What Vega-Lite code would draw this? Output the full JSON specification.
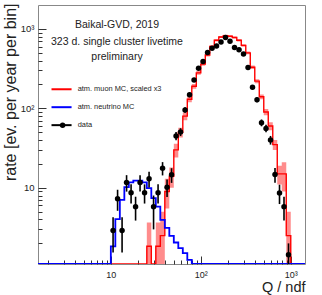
{
  "$schema": "https://vega.github.io/schema/vega-lite/v6.json",
  "width": 267,
  "height": 259,
  "autosize": "none",
  "padding": {"left": 38, "top": 5, "right": 17, "bottom": 31},
  "background": "white",
  "config": {
    "view": {"stroke": "#888", "strokeWidth": 1},
    "font": "Liberation Sans",
    "axis": {"domain": false, "grid": false, "tickColor": "#333", "labelFont": "Liberation Sans", "labelFontSize": 9.5, "labelColor": "#222", "titleFont": "Liberation Sans", "titleFontWeight": "normal", "titleColor": "#222"}
  },
  "datasets": {
    "points": [
      {"q": 10.59, "y": 2.9, "lo": 1.54, "hi": 4.26},
      {"q": 11.885, "y": 7.3, "lo": 5.14, "hi": 9.46},
      {"q": 13.335, "y": 2.9, "lo": 1.54, "hi": 4.26},
      {"q": 14.96, "y": 11.7, "lo": 8.96, "hi": 14.44},
      {"q": 16.79, "y": 8.7, "lo": 6.34, "hi": 11.06},
      {"q": 18.84, "y": 5.8, "lo": 3.87, "hi": 7.73},
      {"q": 21.13, "y": 11.7, "lo": 8.96, "hi": 14.44},
      {"q": 23.71, "y": 8.7, "lo": 6.34, "hi": 11.06},
      {"q": 26.61, "y": 13.0, "lo": 10.12, "hi": 15.88},
      {"q": 29.85, "y": 5.8, "lo": 3.0, "hi": 8.0},
      {"q": 33.5, "y": 8.7, "lo": 6.34, "hi": 11.06},
      {"q": 37.58, "y": 17.7, "lo": 14.33, "hi": 21.07},
      {"q": 42.17, "y": 10.2, "lo": 7.65, "hi": 12.75},
      {"q": 47.32, "y": 14.6, "lo": 11.54, "hi": 17.66},
      {"q": 53.09, "y": 45, "lo": 39.6, "hi": 50.4},
      {"q": 59.57, "y": 50.6, "lo": 44.9, "hi": 56.3},
      {"q": 66.83, "y": 95.7, "lo": 87.9, "hi": 103.5},
      {"q": 74.99, "y": 148, "lo": 138, "hi": 158},
      {"q": 84.14, "y": 228, "lo": 216, "hi": 240},
      {"q": 94.41, "y": 320, "lo": 306, "hi": 334},
      {"q": 105.9, "y": 388, "lo": 372, "hi": 404},
      {"q": 118.9, "y": 504, "lo": 486, "hi": 522},
      {"q": 133.4, "y": 572, "lo": 553, "hi": 591},
      {"q": 149.6, "y": 611, "lo": 591, "hi": 631},
      {"q": 167.9, "y": 686, "lo": 665, "hi": 707},
      {"q": 188.4, "y": 778, "lo": 756, "hi": 800},
      {"q": 211.3, "y": 700, "lo": 679, "hi": 721},
      {"q": 237.1, "y": 582, "lo": 563, "hi": 601},
      {"q": 266.1, "y": 545, "lo": 526, "hi": 564},
      {"q": 298.5, "y": 485, "lo": 467, "hi": 503},
      {"q": 335.0, "y": 326, "lo": 312, "hi": 340},
      {"q": 375.8, "y": 185, "lo": 174, "hi": 196},
      {"q": 421.7, "y": 128, "lo": 119, "hi": 137},
      {"q": 473.2, "y": 66, "lo": 59.5, "hi": 72.5},
      {"q": 530.9, "y": 56, "lo": 50, "hi": 62},
      {"q": 595.7, "y": 40, "lo": 35, "hi": 45},
      {"q": 668.3, "y": 14.7, "lo": 11.6, "hi": 17.8},
      {"q": 749.9, "y": 8.6, "lo": 6.25, "hi": 10.95},
      {"q": 841.4, "y": 5.8, "lo": 3.87, "hi": 7.73},
      {"q": 944.1, "y": 1.44, "lo": 1.1, "hi": 2.0}
    ],
    "blue": [
      {"q": 1.55, "v": 1.1},
      {"q": 10, "v": 1.83},
      {"q": 11.22, "v": 4.04},
      {"q": 12.59, "v": 7.06},
      {"q": 14.13, "v": 10.2},
      {"q": 15.85, "v": 11.7},
      {"q": 17.78, "v": 12.3},
      {"q": 19.95, "v": 12.3},
      {"q": 22.39, "v": 11.7},
      {"q": 25.12, "v": 9.9},
      {"q": 28.18, "v": 7.4},
      {"q": 31.62, "v": 5.8},
      {"q": 35.48, "v": 3.95},
      {"q": 39.81, "v": 3.14},
      {"q": 44.67, "v": 2.49},
      {"q": 50.12, "v": 2.05},
      {"q": 56.23, "v": 1.74},
      {"q": 63.10, "v": 1.51},
      {"q": 70.79, "v": 1.24},
      {"q": 79.43, "v": 1.1},
      {"q": 1440, "v": 1.1}
    ],
    "red": [
      {"q": 1.55, "v": 1.1, "lo": 1.1, "hi": 1.1},
      {"q": 25.12, "v": 1.84, "lo": 1.1, "hi": 3.67},
      {"q": 28.18, "v": 1.1, "lo": 1.1, "hi": 1.1},
      {"q": 31.62, "v": 1.84, "lo": 1.1, "hi": 3.67},
      {"q": 35.48, "v": 2.5, "lo": 1.1, "hi": 5},
      {"q": 39.81, "v": 9, "lo": 5.5, "hi": 13},
      {"q": 44.67, "v": 14, "lo": 10, "hi": 18},
      {"q": 50.12, "v": 30, "lo": 24, "hi": 36},
      {"q": 56.23, "v": 50, "lo": 43, "hi": 57},
      {"q": 63.10, "v": 80, "lo": 71, "hi": 89},
      {"q": 70.79, "v": 130, "lo": 119, "hi": 141},
      {"q": 79.43, "v": 190, "lo": 177, "hi": 203},
      {"q": 89.13, "v": 280, "lo": 265, "hi": 295},
      {"q": 100, "v": 360, "lo": 343, "hi": 377},
      {"q": 112.2, "v": 470, "lo": 451, "hi": 489},
      {"q": 125.9, "v": 600, "lo": 579, "hi": 621},
      {"q": 141.3, "v": 720, "lo": 697, "hi": 743},
      {"q": 158.5, "v": 790, "lo": 766, "hi": 814},
      {"q": 177.8, "v": 820, "lo": 796, "hi": 844},
      {"q": 199.5, "v": 810, "lo": 786, "hi": 834},
      {"q": 223.9, "v": 780, "lo": 756, "hi": 804},
      {"q": 251.2, "v": 720, "lo": 697, "hi": 743},
      {"q": 281.8, "v": 620, "lo": 598, "hi": 642},
      {"q": 316.2, "v": 500, "lo": 480, "hi": 520},
      {"q": 354.8, "v": 330, "lo": 314, "hi": 346},
      {"q": 398.1, "v": 220, "lo": 207, "hi": 233},
      {"q": 446.7, "v": 140, "lo": 130, "hi": 150},
      {"q": 501.2, "v": 90, "lo": 82, "hi": 98},
      {"q": 562.3, "v": 60, "lo": 53, "hi": 67},
      {"q": 631.0, "v": 35, "lo": 30, "hi": 40},
      {"q": 707.9, "v": 15, "lo": 11, "hi": 19},
      {"q": 794.3, "v": 15, "lo": 9, "hi": 21},
      {"q": 891.3, "v": 2.5, "lo": 1.1, "hi": 5},
      {"q": 1000, "v": 1.1, "lo": 1.1, "hi": 1.1},
      {"q": 1440, "v": 1.1, "lo": 1.1, "hi": 1.1}
    ],
    "notes": [
      {"q": 11.7, "r": 1122, "t": "Baikal-GVD, 2019"},
      {"q": 11.7, "r": 692, "t": "323 d. single cluster livetime"},
      {"q": 11.7, "r": 449, "t": "preliminary"}
    ],
    "legend": [
      {"s": "muon", "q1": 2.19, "q2": 3.66, "qt": 4.28, "qm": 2.91, "r": 174, "t": "atm. muon MC, scaled x3"},
      {"s": "neutrino", "q1": 2.19, "q2": 3.66, "qt": 4.28, "qm": 2.91, "r": 103.5, "t": "atm. neutrino MC"},
      {"s": "data", "q1": 2.19, "q2": 3.66, "qt": 4.28, "qm": 2.91, "r": 61.5, "t": "data"}
    ]
  },
  "resolve": {"axis": {"x": "independent", "y": "independent"}},
  "layer": [
    {
      "data": {"name": "red"},
      "mark": {"type": "area", "interpolate": "step-after", "color": "#ff0000", "opacity": 0.45, "clip": true},
      "encoding": {
        "x": {"field": "q", "type": "quantitative", "scale": {"type": "log", "domain": [1.55, 1440], "nice": false},
              "axis": {"orient": "bottom", "values": [2,3,4,5,6,7,8,9,20,30,40,50,60,70,80,90,200,300,400,500,600,700,800,900], "tickSize": -4, "labels": false, "title": null}},
        "y": {"field": "lo", "type": "quantitative", "scale": {"type": "log", "domain": [1.1, 2000], "nice": false},
              "axis": {"orient": "left", "values": [2,3,4,5,6,7,8,9,20,30,40,50,60,70,80,90,200,300,400,500,600,700,800,900], "tickSize": -4, "labels": false, "title": null}},
        "y2": {"field": "hi"}
      }
    },
    {
      "data": {"name": "red"},
      "mark": {"type": "line", "interpolate": "step-after", "color": "#ff0000", "strokeWidth": 1.4, "clip": true},
      "encoding": {
        "x": {"field": "q", "type": "quantitative", "scale": {"type": "log", "domain": [1.55, 1440], "nice": false},
              "axis": {"orient": "bottom", "values": [10, 100, 1000], "tickSize": -8, "labelPadding": 14, "labelBaseline": "top", "labelFontSize": 9,
                       "labelExpr": "datum.value == 10 ? '10' : datum.value == 100 ? '10²' : '10³'",
                       "title": "Q / ndf", "titleFontSize": 14.5, "titleAnchor": "end", "titleAlign": "right", "titleX": 267, "titleY": 27, "titleBaseline": "alphabetic"}},
        "y": {"field": "v", "type": "quantitative", "scale": {"type": "log", "domain": [1.1, 2000], "nice": false},
              "axis": {"orient": "left", "values": [10, 100, 1000], "tickSize": -8, "labelPadding": 12,
                       "labelExpr": "datum.value == 10 ? '10' : datum.value == 100 ? '10²' : '10³'",
                       "title": "rate [ev. per year per bin]", "titleFontSize": 16, "titleAngle": -90, "titleAlign": "right", "titleX": -23, "titleY": -2, "titleBaseline": "alphabetic"}}
      }
    },
    {
      "data": {"name": "blue"},
      "mark": {"type": "line", "interpolate": "step-after", "color": "#0000ff", "strokeWidth": 1.8, "clip": true},
      "encoding": {
        "x": {"field": "q", "type": "quantitative", "axis": null},
        "y": {"field": "v", "type": "quantitative", "axis": null}
      }
    },
    {
      "data": {"name": "points"},
      "mark": {"type": "rule", "color": "#000000", "strokeWidth": 1.6, "clip": true},
      "encoding": {
        "x": {"field": "q", "type": "quantitative", "axis": null},
        "y": {"field": "lo", "type": "quantitative", "axis": null},
        "y2": {"field": "hi"}
      }
    },
    {
      "data": {"name": "points"},
      "mark": {"type": "point", "filled": true, "color": "#000000", "opacity": 1, "size": 30, "clip": true},
      "encoding": {
        "x": {"field": "q", "type": "quantitative", "axis": null},
        "y": {"field": "y", "type": "quantitative", "axis": null}
      }
    },
    {
      "data": {"name": "notes"},
      "mark": {"type": "text", "fontSize": 10.5, "align": "center", "baseline": "middle", "color": "#222", "font": "Liberation Sans"},
      "encoding": {
        "x": {"field": "q", "type": "quantitative", "axis": null},
        "y": {"field": "r", "type": "quantitative", "axis": null},
        "text": {"field": "t"}
      }
    },
    {
      "data": {"name": "legend"},
      "mark": {"type": "rule", "strokeWidth": 2},
      "encoding": {
        "x": {"field": "q1", "type": "quantitative", "axis": null},
        "x2": {"field": "q2"},
        "y": {"field": "r", "type": "quantitative", "axis": null},
        "color": {"field": "s", "type": "nominal", "scale": {"domain": ["muon", "neutrino", "data"], "range": ["#ff0000", "#0000ff", "#000000"]}, "legend": null}
      }
    },
    {
      "data": {"name": "legend"},
      "transform": [{"filter": "datum.s == 'data'"}],
      "mark": {"type": "point", "filled": true, "color": "#000000", "opacity": 1, "size": 30},
      "encoding": {
        "x": {"field": "qm", "type": "quantitative", "axis": null},
        "y": {"field": "r", "type": "quantitative", "axis": null}
      }
    },
    {
      "data": {"name": "legend"},
      "mark": {"type": "text", "fontSize": 7.4, "align": "left", "baseline": "middle", "color": "#222", "font": "Liberation Sans"},
      "encoding": {
        "x": {"field": "qt", "type": "quantitative", "axis": null},
        "y": {"field": "r", "type": "quantitative", "axis": null},
        "text": {"field": "t"}
      }
    }
  ]
}
